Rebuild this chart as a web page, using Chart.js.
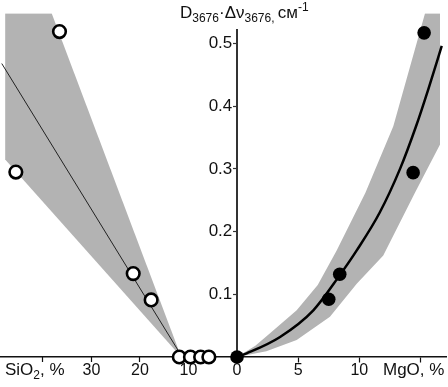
<!doctype html>
<html lang="ru">
<head>
<meta charset="utf-8">
<title>D3676·Δν3676 — SiO2, MgO</title>
<script src="https://cdn.jsdelivr.net/npm/chart.js"></script>
<style>
  body { margin: 0; background: #fff; }
  canvas { display: block; }
</style>
</head>
<body>
<canvas id="grafico" width="448" height="387"></canvas>
<script>
// левая половина: SiO2, % (открытые кружки)
var sio2X = [36.6, 45.6, 21.4, 17.7, 11.9, 9.6, 7.5, 5.8];
var sio2Y = [0.519, 0.295, 0.133, 0.091, 0, 0, 0, 0];
var sio2FitX = [48.5, 11.3];
var sio2FitY = [0.468, 0];
var sio2BandX = [47.8, 38.2, 11.5, 47.8];
var sio2BandY = [0.548, 0.548, 0, 0.315];

// правая половина: MgO, % (закрашенные кружки)
var mgoX = [15.3, 14.4, 8.4, 7.5, 0];
var mgoY = [0.517, 0.294, 0.132, 0.092, 0];
var mgoFitX = [0, 0.79, 3.52, 6.24, 8.42, 9.79, 11.66, 13.33, 14.64, 15.64, 16.74];
var mgoFitY = [0, 0.0058, 0.032, 0.0745, 0.131, 0.170, 0.230, 0.300, 0.368, 0.427, 0.496];
var mgoBandX = [0, 1.5, 2.7, 4.88, 6.6, 8.15, 10.5, 12.78, 15.37, 16.6, 16.6, 14.55, 11.96, 9.79, 7.6, 4.88, 2.4];
var mgoBandY = [0, 0.018, 0.038, 0.0745, 0.115, 0.170, 0.262, 0.368, 0.548, 0.548, 0.339, 0.262, 0.162, 0.117, 0.064, 0.027, 0.009];

// подписи осей
var yTicks = [0.1, 0.2, 0.3, 0.4, 0.5];
var sio2Ticks = [10, 20, 30, 40];
var sio2Labels = ['10', '20', '30', ''];
var mgoTicks = [0, 5, 10, 15];
var mgoLabels = ['0', '5', '10', ''];

var fonte = '"Liberation Sans", Arial, sans-serif';
var cinza = '#b3b3b3';

function pontos(xs, ys) {
    return xs.map(function (x, i) { return { x: x, y: ys[i] }; });
}

function textoRico(ctx, partes, x, y) {
    partes.forEach(function (p) {
        var tam = p[1] == 'n' ? 17 : 12;
        var dy = p[1] == 's' ? 4 : (p[1] == 'p' ? -7 : 0);
        ctx.font = tam + 'px ' + fonte;
        ctx.fillText(p[0], x, y + dy);
        x += ctx.measureText(p[0]).width;
    });
}

var decor = {
    id: 'decor',
    beforeDatasetsDraw: function (chart) {
        // линия вертикальной оси (до 0.52, чтобы не задевать заголовок)
        var ctx = chart.ctx;
        var x0 = chart.scales.x.getPixelForValue(0);
        ctx.save();
        ctx.strokeStyle = '#333';
        ctx.lineWidth = 2;
        ctx.beginPath();
        ctx.moveTo(x0, chart.scales.y.getPixelForValue(0));
        ctx.lineTo(x0, chart.scales.y.getPixelForValue(0.523));
        ctx.stroke();
        ctx.restore();
    },
    afterDraw: function (chart) {
        var ctx = chart.ctx;
        ctx.save();
        ctx.fillStyle = '#111';
        ctx.textBaseline = 'alphabetic';
        textoRico(ctx, [['D', 'n'], ['3676', 's'], ['·', 'n'], ['Δν', 'n'], ['3676, ', 's'], ['см', 'n'], ['-1', 'p']], 180, 18);
        textoRico(ctx, [['SiO', 'n'], ['2', 's'], [', %', 'n']], 5, 375);
        textoRico(ctx, [['MgO, %', 'n']], 383, 375);
        ctx.restore();
    }
};

var ctx = document.getElementById('grafico');

new Chart(ctx, {
    type: 'line',
    data: {
        datasets: [
            {
                data: pontos(sio2X, sio2Y), xAxisID: 'xs', showLine: false,
                pointRadius: 6.3, pointBorderWidth: 2.6, pointBorderColor: '#000',
                pointBackgroundColor: '#fff', order: 0, clip: false
            },
            {
                data: pontos(mgoX, mgoY), xAxisID: 'x', showLine: false,
                pointRadius: 6.8, pointBorderWidth: 0, pointBackgroundColor: '#000',
                order: 0, clip: false
            },
            {
                data: pontos(sio2FitX, sio2FitY), xAxisID: 'xs', borderColor: '#222',
                borderWidth: 1, pointRadius: 0, order: 1
            },
            {
                data: pontos(mgoFitX, mgoFitY), xAxisID: 'x', borderColor: '#000',
                borderWidth: 2.5, pointRadius: 0, cubicInterpolationMode: 'monotone', order: 1
            },
            {
                data: pontos(sio2BandX, sio2BandY), xAxisID: 'xs', borderWidth: 0,
                backgroundColor: cinza, fill: 'shape', pointRadius: 0, order: 2
            },
            {
                data: pontos(mgoBandX, mgoBandY), xAxisID: 'x', borderWidth: 0,
                backgroundColor: cinza, fill: 'shape', pointRadius: 0, order: 2
            }
        ]
    },
    options: {
        responsive: false,
        devicePixelRatio: 1,
        animation: false,
        layout: { autoPadding: false, padding: { left: 0, right: 2, top: 11, bottom: 30 } },
        plugins: { legend: { display: false }, tooltip: { enabled: false } },
        scales: {
            x: {
                type: 'linear', axis: 'x', position: { y: 0 },
                min: -19.379, max: 17.089,
                afterBuildTicks: function (s) { s.ticks = mgoTicks.map(function (v) { return { value: v }; }); },
                ticks: {
                    autoSkip: false, maxRotation: 0, padding: -1, color: '#111',
                    font: { family: fonte, size: 16 },
                    callback: function (v, i) { return mgoLabels[i]; }
                },
                grid: { drawOnChartArea: false, tickLength: 5, color: '#111', tickWidth: 1.2 },
                border: { display: true, color: '#111', width: 1.5 }
            },
            xs: {
                type: 'linear', axis: 'x', position: { y: 0 }, reverse: true,
                min: -43.093, max: 48.866,
                afterBuildTicks: function (s) { s.ticks = sio2Ticks.map(function (v) { return { value: v }; }); },
                ticks: {
                    autoSkip: false, maxRotation: 0, padding: -1, color: '#111',
                    font: { family: fonte, size: 16 },
                    callback: function (v, i) { return sio2Labels[i]; }
                },
                grid: { drawOnChartArea: false, tickLength: 5, color: '#111', tickWidth: 1.2 },
                border: { display: false }
            },
            y: {
                type: 'linear', axis: 'y', position: { x: 0 },
                min: 0, max: 0.5483,
                afterBuildTicks: function (s) { s.ticks = yTicks.map(function (v) { return { value: v }; }); },
                ticks: {
                    color: '#111', font: { family: fonte, size: 17 },
                    // с осью в середине подписи прижаты к линии; пробел даёт зазор
                    callback: function (v) { return v.toFixed(1) + ' '; }
                },
                grid: { drawOnChartArea: false, tickLength: 4, color: '#333', tickWidth: 1.2 },
                border: { display: false }
            }
        }
    },
    plugins: [decor]
});
</script>
</body>
</html>
